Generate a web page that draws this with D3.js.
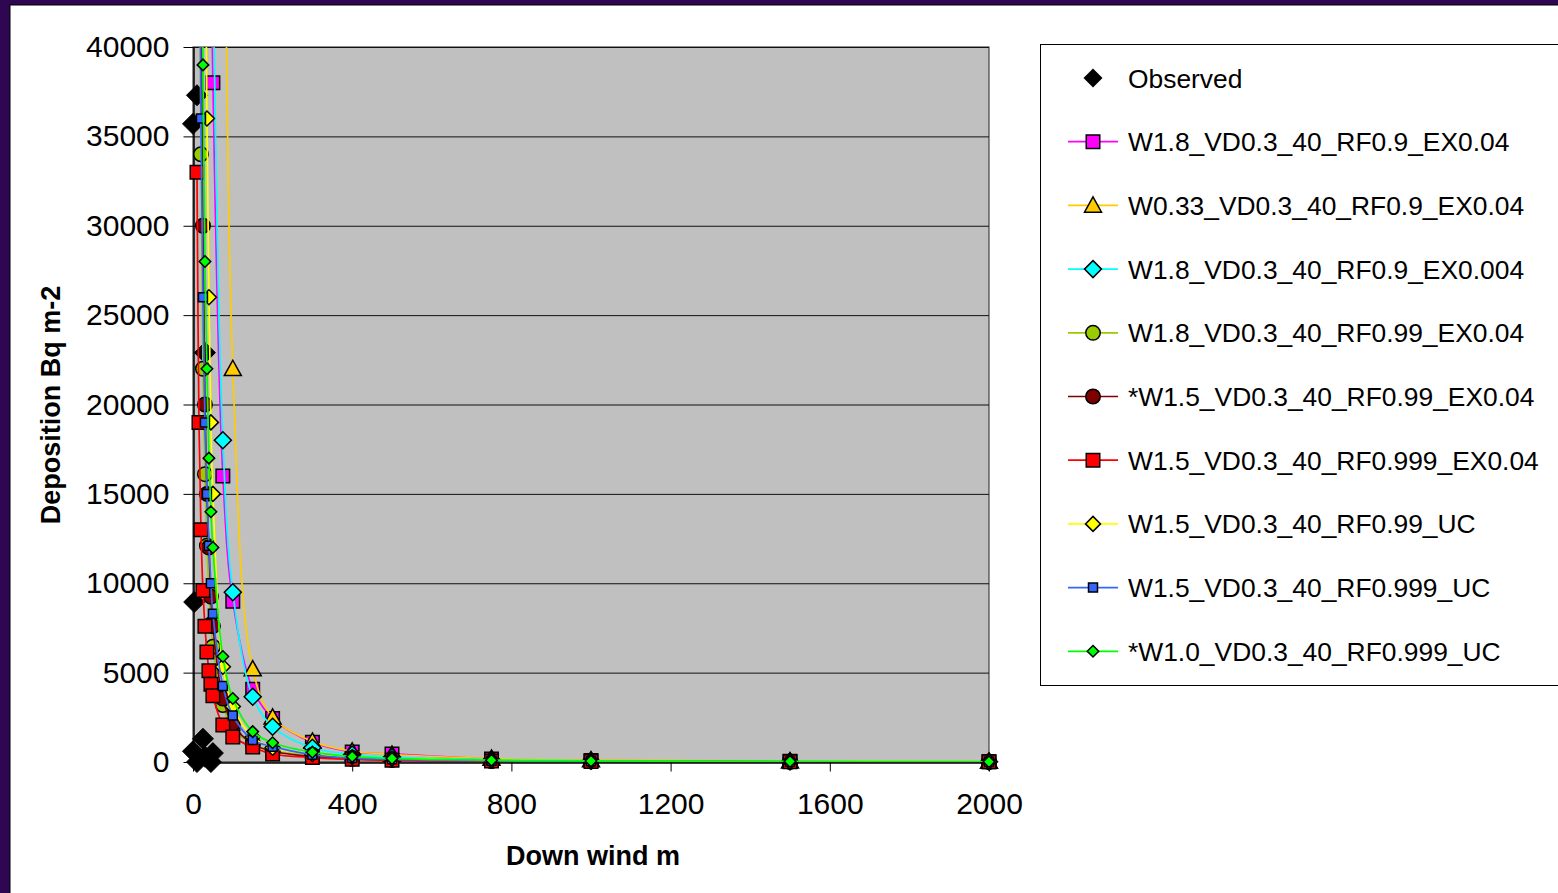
<!DOCTYPE html>
<html>
<head>
<meta charset="utf-8">
<script src="https://cdn.jsdelivr.net/npm/d3@7"></script>
<style>
  html, body { margin: 0; padding: 0; background: #2e0652; }
  svg { display: block; }
</style>
</head>
<body>
<svg id="chart" width="1558" height="893"></svg>
<script>
// Down-wind distances (m) at which the model series are reported
const distances = [5, 10, 15, 20, 25, 30, 35, 40, 45, 50, 75, 100, 150, 200, 300, 400, 500, 750, 1000, 1500, 2000];

// Observed deposition (Bq m-2) and where it was sampled (m)
const observedDist = [0, 10, 30, 3, 25, 0, 50, 10, 45, 30];
const observedDep  = [35700, 37300, 22900, 8950, 1300, 600, 500, 0, 0, 300];

// Model runs, one value per distance (null = not reported)
const w18_rf09_ex004x = [null, null, null, null, null, null, null, null, 47000, 38000, 16000, 9000, 4070, 2440, 1100, 560, 450, 170, 80, 35, 20];
const w033_rf09_ex004x = [null, null, null, null, null, null, null, null, null, null, 70000, 22000, 5200, 2500, 1150, 600, 420, 200, 110, 50, 30];
const w18_rf09_ex0004 = [null, null, null, null, null, null, null, null, null, 45000, 18000, 9500, 3650, 1970, 800, 420, 280, 130, 70, 30, 18];
const w18_rf099_ex004 = [null, null, 57000, 34000, 22000, 16100, 12100, 9500, 7700, 6450, 3190, 1900, 1000, 600, 400, 230, 150, 70, 40, 18, 10];
const w15_rf099_ex004 = [null, null, null, 46000, 30000, 20000, 15000, 12000, 9250, 7600, 3550, 2130, 1000, 600, 300, 170, 110, 50, 30, 12, 8];
const w15_rf0999_ex004 = [null, 33000, 19000, 13000, 9600, 7600, 6150, 5100, 4350, 3700, 2070, 1400, 840, 450, 250, 150, 100, 50, 30, 15, 10];
const w15_rf099_uc = [null, null, null, null, null, 52000, 36000, 26000, 19000, 15000, 5330, 3100, 1400, 800, 450, 280, 190, 90, 50, 22, 12];
const w15_rf0999_uc = [null, null, 57000, 36000, 26000, 19000, 15000, 12100, 10000, 8300, 4250, 2600, 1230, 860, 400, 220, 150, 70, 40, 18, 10];
const w10_rf0999_uc = [null, null, null, 57000, 39000, 28000, 22000, 17000, 14000, 12000, 5900, 3550, 1700, 1080, 550, 300, 200, 100, 60, 28, 15];

// Axis ticks and titles
const xTicks = [0, 400, 800, 1200, 1600, 2000];
const yTicks = [0, 5000, 10000, 15000, 20000, 25000, 30000, 35000, 40000];
const xTitle = "Down wind m";
const yTitle = "Deposition Bq m-2";

// Simple marker shapes; size = (full width)^2
const shapes = {
  square:   { draw(c, s) { const r = Math.sqrt(s) / 2; c.rect(-r, -r, 2 * r, 2 * r); } },
  diamond:  { draw(c, s) { const r = Math.sqrt(s) / 2; c.moveTo(0, -r); c.lineTo(r, 0); c.lineTo(0, r); c.lineTo(-r, 0); c.closePath(); } },
  triangle: { draw(c, s) { const r = Math.sqrt(s) / 2; c.moveTo(0, -r); c.lineTo(r, r * 0.8); c.lineTo(-r, r * 0.8); c.closePath(); } },
  circle:   { draw(c, s) { const r = Math.sqrt(s) / 2; c.moveTo(r, 0); c.arc(0, 0, r, 0, 2 * Math.PI); } }
};

const series = [
  { name: "W1.8_VD0.3_40_RF0.9_EX0.04",    values: w18_rf09_ex004x,  color: "#ff00ff", fill: "#ff00ff", shape: "square",   w: 13.5 },
  { name: "W0.33_VD0.3_40_RF0.9_EX0.04",   values: w033_rf09_ex004x, color: "#ffcc00", fill: "#ffcc00", shape: "triangle", w: 17 },
  { name: "W1.8_VD0.3_40_RF0.9_EX0.004",   values: w18_rf09_ex0004,  color: "#00ffff", fill: "#00ffff", shape: "diamond",  w: 17 },
  { name: "W1.8_VD0.3_40_RF0.99_EX0.04",   values: w18_rf099_ex004,  color: "#99cc00", fill: "#99cc00", shape: "circle",   w: 14.5 },
  { name: "*W1.5_VD0.3_40_RF0.99_EX0.04",  values: w15_rf099_ex004,  color: "#800000", fill: "#800000", shape: "circle",   w: 14.5 },
  { name: "W1.5_VD0.3_40_RF0.999_EX0.04",  values: w15_rf0999_ex004, color: "#ff0000", fill: "#ff0000", shape: "square",   w: 13.5 },
  { name: "W1.5_VD0.3_40_RF0.99_UC",       values: w15_rf099_uc,     color: "#ffff00", fill: "#ffff00", shape: "diamond",  w: 15 },
  { name: "W1.5_VD0.3_40_RF0.999_UC",      values: w15_rf0999_uc,    color: "#3366ff", fill: "#3366ff", shape: "square",   w: 9 },
  { name: "*W1.0_VD0.3_40_RF0.999_UC",     values: w10_rf0999_uc,    color: "#00ff00", fill: "#00ff00", shape: "diamond",  w: 11.5 }
];

const FONT = "'Liberation Sans', Arial, sans-serif";
const svg = d3.select("#chart");

// white page inside the purple frame
svg.append("rect").attr("x", 10).attr("y", 5).attr("width", 1600).attr("height", 900)
  .attr("fill", "#ffffff").attr("stroke", "#000").attr("stroke-width", 1);

const plot = { left: 193, right: 989, top: 47, bottom: 762 };
const x = d3.scaleLinear().domain([0, 2000]).range([plot.left, plot.right]);
const y = d3.scaleLinear().domain([0, 40000]).range([plot.bottom, plot.top]);

svg.append("defs").append("clipPath").attr("id", "plotClip")
  .append("rect").attr("x", plot.left).attr("y", plot.top)
  .attr("width", plot.right - plot.left).attr("height", plot.bottom - plot.top);

// plot background
svg.append("rect").attr("x", plot.left).attr("y", plot.top)
  .attr("width", plot.right - plot.left).attr("height", plot.bottom - plot.top)
  .attr("fill", "#c0c0c0").attr("stroke", "#222").attr("stroke-width", 1);

// horizontal gridlines
svg.append("g").selectAll("line").data(yTicks.filter(v => v > 0)).join("line")
  .attr("x1", plot.left).attr("x2", plot.right)
  .attr("y1", d => y(d) + 0.5).attr("y2", d => y(d) + 0.5)
  .attr("stroke", "#111").attr("stroke-width", 1);

// axes
const yAxis = svg.append("g").attr("transform", `translate(${plot.left + 0.5},0)`)
  .call(d3.axisLeft(y).tickValues(yTicks).tickSize(10).tickSizeOuter(0).tickPadding(14).tickFormat(d3.format("d")));
const xAxis = svg.append("g").attr("transform", `translate(0,${plot.bottom + 0.5})`)
  .call(d3.axisBottom(x).tickValues(xTicks).tickSize(9).tickSizeOuter(0).tickPadding(21).tickFormat(d3.format("d")));
[yAxis, xAxis].forEach(a => {
  a.selectAll("path").attr("stroke", "#000").attr("stroke-width", 1.5);
  a.selectAll("line").attr("stroke", "#000");
  a.selectAll("text").attr("font-family", FONT).attr("font-size", 30).attr("fill", "#000");
});

// axis titles
svg.append("text").attr("x", 593).attr("y", 865).attr("text-anchor", "middle")
  .attr("font-family", FONT).attr("font-weight", "bold").attr("font-size", 27).text(xTitle);
svg.append("text").attr("transform", "translate(60,405) rotate(-90)").attr("text-anchor", "middle")
  .attr("font-family", FONT).attr("font-weight", "bold").attr("font-size", 27).text(yTitle);

const sym = (shape, w) => d3.symbol().type(shapes[shape]).size(w * w)();

const line = d3.line()
  .defined(d => d.v != null)
  .x(d => x(d.d)).y(d => y(d.v))
  .curve(d3.curveCatmullRom.alpha(0.5));

const gData = svg.append("g");

// observed points
gData.append("g").selectAll("path").data(observedDist.map((d, i) => ({ d, v: observedDep[i] }))).join("path")
  .attr("transform", p => `translate(${x(p.d)},${y(p.v)})`)
  .attr("d", sym("diamond", 21)).attr("fill", "#000").attr("stroke", "#000").attr("stroke-width", 1);

// model series: smoothed line, then markers
series.forEach(s => {
  const pts = distances.map((d, i) => ({ d, v: s.values[i] }));
  const defined = pts.filter(p => p.v != null);
  gData.append("path").datum(defined).attr("clip-path", "url(#plotClip)")
    .attr("d", line).attr("fill", "none").attr("stroke", s.color).attr("stroke-width", 1.7);
  gData.append("g").selectAll("path").data(defined.filter(p => p.v <= 40000)).join("path")
    .attr("transform", p => `translate(${x(p.d)},${y(p.v)})`)
    .attr("d", sym(s.shape, s.w)).attr("fill", s.fill).attr("stroke", "#000").attr("stroke-width", 1.5);
});

// legend
const lg = svg.append("g");
lg.append("rect").attr("x", 1040.5).attr("y", 44.5).attr("width", 600).attr("height", 641)
  .attr("fill", "#fff").attr("stroke", "#000").attr("stroke-width", 1);
const entries = [{ name: "Observed", observed: true }].concat(series);
const rowY = i => 78 + i * 63.7;
entries.forEach((e, i) => {
  const cy = rowY(i);
  if (e.observed) {
    lg.append("path").attr("transform", `translate(1093,${cy})`).attr("d", sym("diamond", 19)).attr("fill", "#000");
  } else {
    lg.append("line").attr("x1", 1068).attr("x2", 1118).attr("y1", cy).attr("y2", cy)
      .attr("stroke", e.color).attr("stroke-width", 1.7);
    lg.append("path").attr("transform", `translate(1093,${cy})`).attr("d", sym(e.shape, e.w))
      .attr("fill", e.fill).attr("stroke", "#000").attr("stroke-width", 1.5);
  }
  lg.append("text").attr("x", 1128).attr("y", cy).attr("dy", "0.36em")
    .attr("font-family", FONT).attr("font-size", 26.4).attr("fill", "#000").text(e.name);
});
</script>
</body>
</html>
